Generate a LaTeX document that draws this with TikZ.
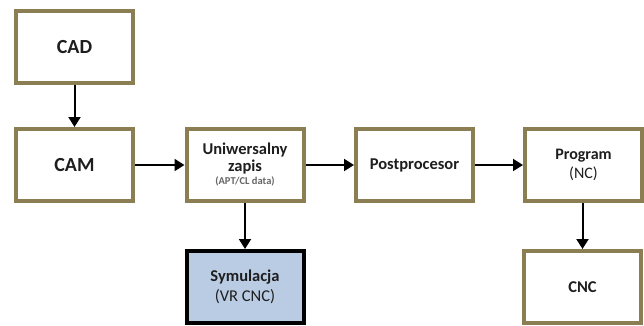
\documentclass[tikz,border=0pt]{standalone}
\usepackage{fontspec}
\setmainfont{Carlito}
\usetikzlibrary{arrows.meta}
\definecolor{boxrim}{RGB}{138,126,82}
\definecolor{simfill}{RGB}{186,204,228}
\definecolor{txt}{RGB}{30,30,30}
\begin{document}
\begin{tikzpicture}[x=1pt,y=-1pt,
  stagebox/.style={draw=boxrim, line width=4pt, fill=white, minimum width=117pt,
    minimum height=72pt, inner sep=0pt, align=center, text=txt, font=\bfseries},
  simbox/.style={stagebox, draw=black, fill=simfill},
  flow/.style={line width=2pt, -{Triangle[length=10pt,width=12pt]}}]
\useasboundingbox (0,0) rectangle (644,326);
\node[stagebox, font=\bfseries\fontsize{20}{22}\selectfont] (cad) at (74.5,47.5) {CAD};
\node[stagebox, font=\bfseries\fontsize{20}{22}\selectfont] (cam) at (74.5,165) {CAM};
\node[stagebox, font=\bfseries\fontsize{16.5}{17}\selectfont] (uni) at (245,165)
  {Uniwersalny\\zapis\\[-4pt]{\color{black!60}\fontsize{10.5}{12}\selectfont (APT/CL data)}};
\node[stagebox, font=\bfseries\fontsize{16.5}{17}\selectfont] (post) at (414.5,165) {Postprocesor};
\node[stagebox, font=\fontsize{16}{19}\selectfont] (prog) at (583.5,165)
  {\bfseries Program\\(NC)};
\node[simbox, font=\fontsize{16.5}{20}\selectfont] (sim) at (245,287)
  {\bfseries Symulacja\\(VR CNC)};
\node[stagebox, font=\bfseries\fontsize{16.5}{17}\selectfont] (cnc) at (582.5,287) {CNC};
\draw[flow] (cad) -- (cam);
\draw[flow] (cam) -- (uni);
\draw[flow] (uni) -- (post);
\draw[flow] (post) -- (prog);
\draw[flow] (uni) -- (sim);
\draw[flow] (prog.south -| cnc) -- (cnc);
\end{tikzpicture}
\end{document}
